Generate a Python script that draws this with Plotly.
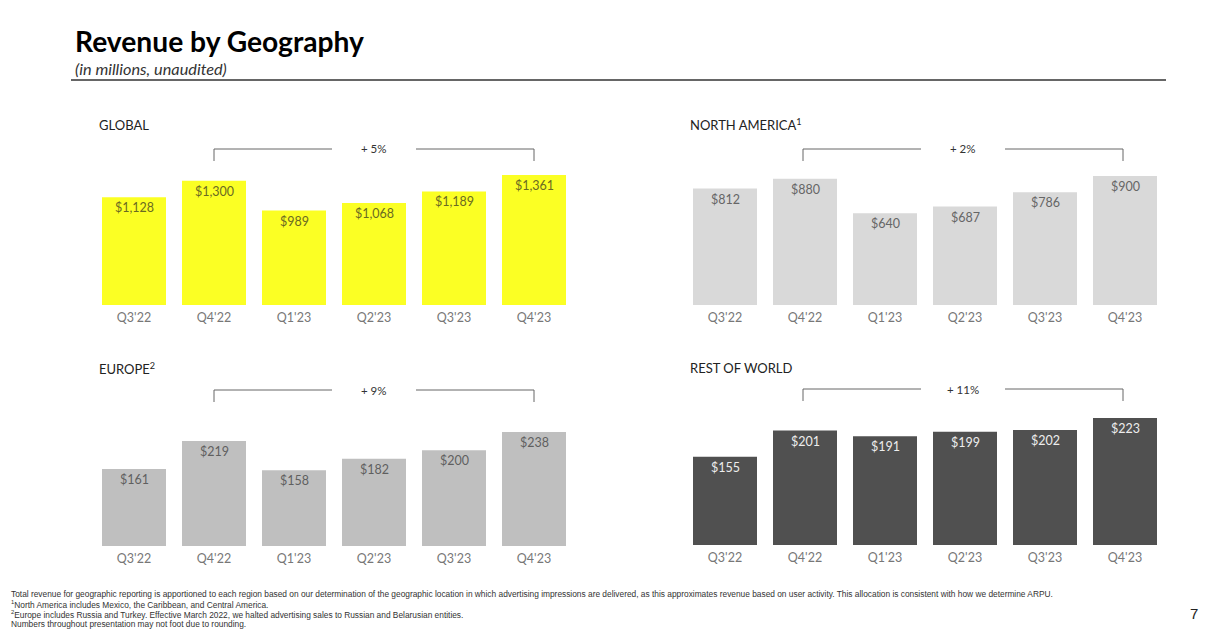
import plotly.graph_objects as go

W = 1213
H = 629

quarters = ["Q3'22", "Q4'22", "Q1'23", "Q2'23", "Q3'23", "Q4'23"]
global_rev = [1128, 1300, 989, 1068, 1189, 1361]
north_america = [812, 880, 640, 687, 786, 900]
europe = [161, 219, 158, 182, 200, 238]
rest_of_world = [155, 201, 191, 199, 202, 223]

titles = ["GLOBAL", "NORTH AMERICA<sup>1</sup>", "EUROPE<sup>2</sup>", "REST OF WORLD"]
growth = ["+ 5%", "+ 2%", "+ 9%", "+ 11%"]
colors = ["#FBFF24", "#D9D9D9", "#BFBFBF", "#505050"]
label_colors = ["#6A6A22", "#666666", "#5F5F5F", "#EDEDED"]

footnotes = [
    "Total revenue for geographic reporting is apportioned to each region based on our determination of the geographic location in which advertising impressions are delivered, as this approximates revenue based on user activity. This allocation is consistent with how we determine ARPU.",
    "<sup>1</sup>North America includes Mexico, the Caribbean, and Central America.",
    "<sup>2</sup>Europe includes Russia and Turkey. Effective March 2022, we halted advertising sales to Russian and Belarusian entities.",
    "Numbers throughout presentation may not foot due to rounding.",
]

FONT = "Lato"


def px(x):
    return x / W


def py(y):
    return 1 - y / H


# left edge, baseline, pixel height of the tallest bar, title y, bracket x offset
panels = [
    (94, 305, 130, 125, 0, global_rev),
    (685, 305, 129, 125, -2, north_america),
    (94, 546, 114, 368, 0, europe),
    (685, 545, 127, 368, -2, rest_of_world),
]

fig = go.Figure()
shapes = []
notes = []


def text(x, y, s, size, color, anchor="left", **kw):
    notes.append(dict(x=px(x), y=py(y), xref="paper", yref="paper", text=s, showarrow=False,
                      xanchor=anchor, yanchor="middle", borderpad=0,
                      font=dict(family=kw.pop("family", FONT), size=size, color=color), **kw))


for i, (left, base, tall, title_y, shift, vals) in enumerate(panels):
    n = "" if i == 0 else str(i + 1)
    fig.add_trace(go.Bar(x=quarters, y=vals, marker_color=colors[i], marker_line_width=0,
                         xaxis="x" + n, yaxis="y" + n, width=0.8, showlegend=False))
    fig.update_layout({
        "xaxis" + n: dict(domain=[px(left), px(left + 480)], anchor="y" + n, type="category",
                          range=[-0.5, 5.5], showgrid=False, showline=False, ticks="", zeroline=False,
                          ticklabelstandoff=3,
                          tickfont=dict(family=FONT, size=12.5, color="#777777")),
        "yaxis" + n: dict(domain=[py(base), py(base - 140)], anchor="x" + n,
                          range=[0, max(vals) * 140 / tall], visible=False),
    })
    for q, v in zip(quarters, vals):
        notes.append(dict(x=q, y=v, xref="x" + n, yref="y" + n, text="$" + format(v, ","),
                          showarrow=False, yanchor="middle", yshift=-10.5,
                          font=dict(family=FONT, size=12.5, color=label_colors[i])))

    # bracket from Q4'22 to Q4'23 with the gap for the growth label
    top = base - 156
    x0 = left + 120 + shift
    x1 = left + 440 + shift
    mid = (x0 + x1) / 2
    line = dict(color="#666666", width=1)
    for a, b, c, d in [(x0, top, mid - 42, top), (mid + 42, top, x1, top),
                       (x0, top, x0, top + 12), (x1, top, x1, top + 12)]:
        shapes.append(dict(type="line", xref="paper", yref="paper", x0=px(a), y0=py(b), x1=px(c), y1=py(d), line=line))
    text(mid, top, growth[i], 11.5, "#333333", anchor="center")
    text(left + 4, title_y, titles[i], 13, "#222222")

# header
text(74, 41, "<b>Revenue by Geography</b>", 28.2, "#000000")
text(74, 68, "<i>(in millions, unaudited)</i>", 16.3, "#333333")
shapes.append(dict(type="line", xref="paper", yref="paper", x0=px(71), y0=py(80), x1=px(1166), y1=py(80),
                   line=dict(color="#333333", width=1.5)))

# footer
for k, s in enumerate(footnotes):
    text(10, 594 + k * 10, s, 8.35, "#333333", family="Liberation Sans")
text(1194, 613, "7", 15, "#222222", anchor="center", family="Liberation Sans")

fig.update_layout(width=W, height=H, margin=dict(l=0, r=0, t=0, b=0), bargap=0.2,
                  plot_bgcolor="white", paper_bgcolor="white", shapes=shapes, annotations=notes)

fig.write_html("out.html", config={"displayModeBar": False}, post_script="document.body.style.margin='0';")
